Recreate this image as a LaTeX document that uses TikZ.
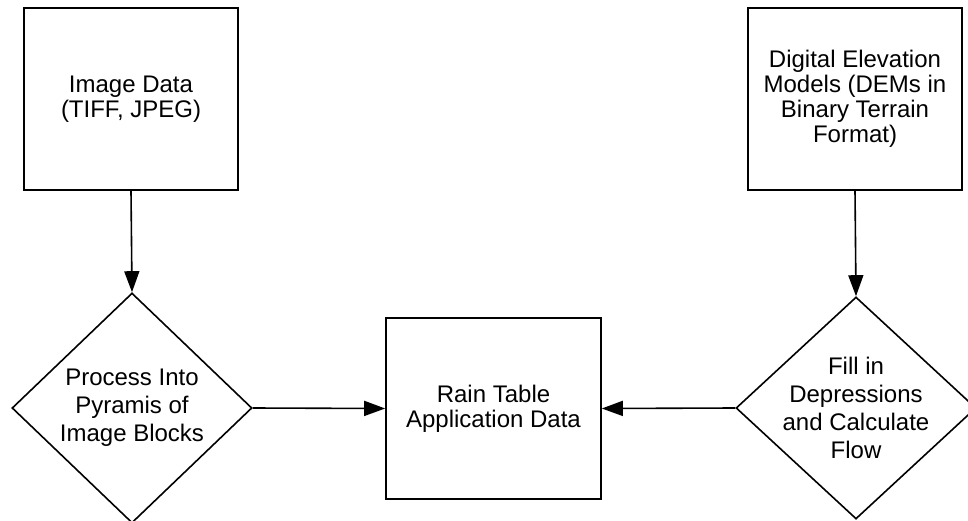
\documentclass[tikz,border=0pt]{standalone}
\usepackage{fontspec}
\setmainfont{Liberation Sans}
\usetikzlibrary{shapes.geometric,arrows.meta}
\begin{document}
\begin{tikzpicture}[x=1pt,y=-1pt,
  box/.style={draw, line width=1.6pt, minimum width=214pt, minimum height=182pt, inner sep=0pt, align=center, font=\fontsize{24}{25}\selectfont},
  dia/.style={draw, diamond, line width=1.6pt, inner sep=0pt},
  dtext/.style={align=center, inner sep=0pt, font=\fontsize{24}{28}\selectfont},
  conn/.style={line width=1.6pt, -{Triangle[length=21pt,width=15pt]}}]
\useasboundingbox (0,0) rectangle (968,521);
\node[box] (img) at (131,99) {Image Data\\(TIFF, JPEG)};
\node[box] (dem) at (855,99) {Digital Elevation\\Models (DEMs in\\Binary Terrain\\Format)};
\node[box, minimum width=215pt, minimum height=181pt] (rain) at (493.5,408.5) {Rain Table\\Application Data};
\node[dia, minimum width=240pt, minimum height=230pt] (proc) at (132,408) {};
\node[dtext] (proctext) at (proc.center) {Process Into\\Pyramis of\\Image Blocks};
\node[dia, minimum width=240pt, minimum height=222pt] (fill) at (856,408) {};
\node[dtext] (filltext) at (fill.center) {Fill in\\Depressions\\and Calculate\\Flow};
\draw[conn] (img.south) -- (proc.north);
\draw[conn] (dem.south) -- (fill.north);
\draw[conn] (proc.east) -- (rain.west);
\draw[conn] (fill.west) -- (rain.east);
\end{tikzpicture}
\end{document}
